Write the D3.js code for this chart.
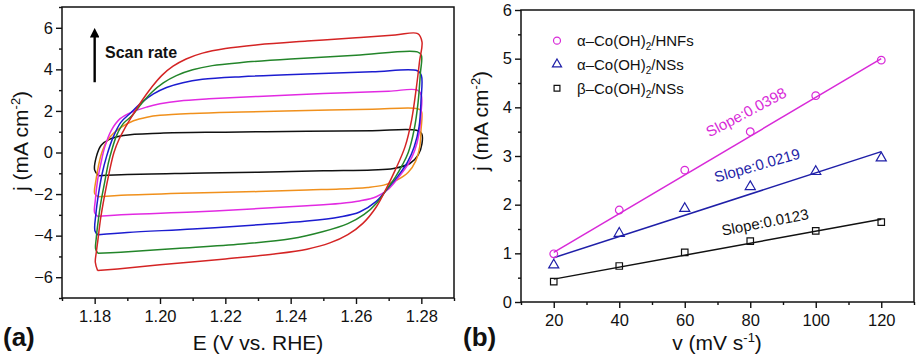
<!DOCTYPE html>
<html><head><meta charset="utf-8">
<script src="https://cdn.jsdelivr.net/npm/d3@7"></script>
<style>
body{margin:0;background:#fff}
svg{display:block}
text{font-family:"Liberation Sans",Arial,Helvetica,sans-serif;fill:#111}
</style>
</head><body>
<svg id="c" width="917" height="360"></svg>
<script>
// ================= DATA =================
// Panel (a): cyclic voltammograms, [E (V vs RHE), j (mA cm^-2)]
const cvBlack = [[1.1812,-1.12],[1.1800,-0.85],[1.1805,-0.21],[1.1820,0.35],[1.1845,0.63],[1.1888,0.82],[1.2000,0.93],[1.2200,0.98],[1.2450,1.02],[1.2650,1.05],[1.2785,1.07],[1.2801,0.91],[1.2802,0.43],[1.2790,-0.13],[1.2765,-0.53],[1.2715,-0.77],[1.2650,-0.84],[1.2500,-0.88],[1.2300,-0.95],[1.2100,-1.00],[1.1900,-1.06],[1.1812,-1.12]];
const cvOrange = [[1.1811,-2.13],[1.1800,-1.97],[1.1804,-1.33],[1.1811,-0.69],[1.1821,-0.05],[1.1836,0.51],[1.1857,0.91],[1.1883,1.23],[1.1919,1.53],[1.1960,1.70],[1.2000,1.79],[1.2100,1.88],[1.2250,1.95],[1.2450,2.02],[1.2650,2.08],[1.2788,2.11],[1.2800,2.00],[1.2799,1.07],[1.2795,0.27],[1.2783,-0.40],[1.2760,-0.95],[1.2725,-1.33],[1.2685,-1.57],[1.2635,-1.68],[1.2550,-1.76],[1.2450,-1.80],[1.2300,-1.88],[1.2100,-1.95],[1.1900,-2.05],[1.1811,-2.13]];
const cvMagenta = [[1.1811,-3.10],[1.1800,-2.90],[1.1802,-2.29],[1.1809,-1.33],[1.1819,-0.53],[1.1831,0.27],[1.1851,1.07],[1.1878,1.63],[1.1914,1.95],[1.1960,2.19],[1.2000,2.34],[1.2060,2.48],[1.2150,2.58],[1.2300,2.70],[1.2500,2.84],[1.2700,2.95],[1.2788,3.00],[1.2800,2.75],[1.2799,1.88],[1.2793,0.91],[1.2780,0.11],[1.2762,-0.50],[1.2735,-1.10],[1.2700,-1.75],[1.2662,-2.13],[1.2611,-2.33],[1.2550,-2.45],[1.2450,-2.56],[1.2300,-2.70],[1.2100,-2.86],[1.1900,-2.98],[1.1811,-3.07]];
const cvBlue = [[1.1811,-3.98],[1.1801,-3.78],[1.1804,-2.93],[1.1812,-1.97],[1.1823,-1.01],[1.1836,-0.21],[1.1857,0.75],[1.1880,1.45],[1.1910,1.90],[1.1945,2.42],[1.1980,2.82],[1.2020,3.13],[1.2070,3.36],[1.2130,3.52],[1.2250,3.65],[1.2450,3.78],[1.2650,3.88],[1.2788,3.93],[1.2800,3.72],[1.2799,2.51],[1.2793,1.23],[1.2778,0.27],[1.2758,-0.45],[1.2730,-1.10],[1.2697,-1.73],[1.2662,-2.35],[1.2611,-2.86],[1.2550,-3.10],[1.2450,-3.30],[1.2300,-3.48],[1.2100,-3.68],[1.1900,-3.85],[1.1811,-3.96]];
const cvGreen = [[1.1810,-4.85],[1.1803,-4.65],[1.1805,-4.10],[1.1810,-3.40],[1.1819,-2.40],[1.1831,-1.40],[1.1842,-0.50],[1.1852,0.10],[1.1868,0.85],[1.1888,1.40],[1.1913,1.75],[1.1945,2.38],[1.1975,2.90],[1.2010,3.35],[1.2050,3.70],[1.2100,3.98],[1.2160,4.18],[1.2250,4.33],[1.2400,4.50],[1.2600,4.68],[1.2788,4.84],[1.2800,4.68],[1.2797,3.80],[1.2790,2.40],[1.2778,1.10],[1.2760,0.00],[1.2742,-0.60],[1.2720,-1.20],[1.2695,-1.75],[1.2665,-2.40],[1.2625,-2.98],[1.2575,-3.42],[1.2500,-3.80],[1.2400,-4.15],[1.2250,-4.40],[1.2050,-4.62],[1.1880,-4.80],[1.1810,-4.85]];
const cvRed = [[1.1809,-5.68],[1.1802,-5.28],[1.1805,-4.80],[1.1810,-4.20],[1.1818,-3.20],[1.1830,-2.10],[1.1844,-1.00],[1.1859,0.00],[1.1875,0.65],[1.1890,1.10],[1.1913,1.71],[1.1945,2.50],[1.1975,3.15],[1.2005,3.70],[1.2040,4.15],[1.2080,4.50],[1.2130,4.78],[1.2200,5.00],[1.2300,5.18],[1.2450,5.36],[1.2600,5.52],[1.2720,5.65],[1.2789,5.72],[1.2802,5.32],[1.2795,4.44],[1.2785,3.15],[1.2770,1.55],[1.2750,0.27],[1.2720,-0.85],[1.2693,-1.73],[1.2662,-2.62],[1.2621,-3.41],[1.2575,-3.95],[1.2520,-4.35],[1.2450,-4.65],[1.2350,-4.88],[1.2200,-5.12],[1.2000,-5.40],[1.1870,-5.60],[1.1809,-5.68]];
const cvSeries = [cvBlack, cvOrange, cvMagenta, cvBlue, cvGreen, cvRed];
const cvColors = ["#111111","#f0901c","#e22ae2","#1c1cd0","#23852a","#d42424"];
const aXTicks = [1.18,1.20,1.22,1.24,1.26,1.28];
const aXMinor = [1.17,1.19,1.21,1.23,1.25,1.27,1.29];
const aYTicks = [-6,-4,-2,0,2,4,6];
const aYMinor = [-7,-5,-3,-1,1,3,5,7];
const scanArrow = [[1.18,3.38],[1.18,6.05]];

// Panel (b): current density vs scan rate
const scanRates = [20,40,60,80,100,120];
const jHNFs    = [0.99,1.89,2.71,3.50,4.24,4.97];
const jAlphaNSs = [0.76,1.41,1.92,2.37,2.68,2.96];
const jBetaNSs  = [0.42,0.74,1.02,1.25,1.46,1.64];
const fitHNFs    = [[20,1.02],[120,5.00]];
const fitAlphaNSs = [[20,0.91],[120,3.09]];
const fitBetaNSs  = [[20,0.47],[120,1.70]];
const slopeLabels = ["Slope:0.0398","Slope:0.0219","Slope:0.0123"];
const bColors = ["#d82ad8","#1f1fa8","#111111"];
const bXTicks = [20,40,60,80,100,120];
const bXMinor = [10,30,50,70,90,110,130];
const bYTicks = [0,1,2,3,4,5,6];
const bYMinor = [0.5,1.5,2.5,3.5,4.5,5.5];

// ================= DRAW =================
const svg = d3.select("#c");

function frame(g, x, y, xt, xm, yt, ym, xfmt, yfmt) {
  const [x0,x1] = x.range(), [y0,y1] = y.range();
  g.append("g").attr("transform",`translate(0,${y0})`)
    .call(d3.axisBottom(x).tickValues(xt).tickSize(6).tickPadding(6).tickFormat(xfmt));
  g.append("g").attr("transform",`translate(0,${y0})`)
    .call(d3.axisBottom(x).tickValues(xm).tickSize(3).tickFormat(""));
  g.append("g").attr("transform",`translate(${x0},0)`)
    .call(d3.axisLeft(y).tickValues(yt).tickSize(6).tickPadding(3).tickFormat(yfmt));
  g.append("g").attr("transform",`translate(${x0},0)`)
    .call(d3.axisLeft(y).tickValues(ym).tickSize(3).tickFormat(""));
  g.selectAll(".domain").remove();
  g.selectAll(".tick line").attr("stroke","#111").attr("stroke-width",1.4);
  g.selectAll(".tick text").attr("font-size","16.5px").attr("fill","#111")
    .attr("font-family","'Liberation Sans',Arial,sans-serif");
  g.append("rect").attr("x",x0).attr("y",y1).attr("width",x1-x0).attr("height",y0-y1)
    .attr("fill","none").attr("stroke","#111").attr("stroke-width",1.5);
}

// ---------- Panel (a) ----------
const xa = d3.scaleLinear().domain([1.17,1.29]).range([62,454]);
const ya = d3.scaleLinear().domain([-7,7]).range([298,7]);
const ga = svg.append("g");
const cvLine = d3.line().x(d=>xa(d[0])).y(d=>ya(d[1])).curve(d3.curveCatmullRom.alpha(0.5));
cvSeries.forEach((s,i)=>{
  ga.append("path").attr("d",cvLine(s)).attr("fill","none")
    .attr("stroke",cvColors[i]).attr("stroke-width",1.5).attr("stroke-linejoin","round");
});
frame(ga, xa, ya, aXTicks, aXMinor, aYTicks, aYMinor, d3.format(".2f"), d3.format("d"));
// scan-rate arrow
svg.append("defs").append("marker").attr("id","ah").attr("viewBox","0 0 10 10")
  .attr("refX",5).attr("refY",5).attr("markerWidth",4).attr("markerHeight",4)
  .attr("orient","auto").append("path").attr("d","M0,0L10,5L0,10Z").attr("fill","#000");
ga.append("line").attr("x1",xa(scanArrow[0][0])).attr("y1",ya(scanArrow[0][1]))
  .attr("x2",xa(scanArrow[1][0])).attr("y2",ya(scanArrow[1][1])+6)
  .attr("stroke","#000").attr("stroke-width",2.4).attr("marker-end","url(#ah)");
ga.append("text").attr("x",105).attr("y",58).attr("font-size","16px").attr("font-weight","bold")
  .attr("fill","#000").text("Scan rate");
// axis titles
ga.append("text").attr("x",258).attr("y",350).attr("text-anchor","middle").attr("font-size","21px")
  .text("E (V vs. RHE)");
const yta = ga.append("text").attr("transform","translate(28,141) rotate(-90)")
  .attr("text-anchor","middle").attr("font-size","21px");
yta.append("tspan").text("j (mA cm");
yta.append("tspan").attr("dy",-8).attr("font-size","13px").text("-2");
yta.append("tspan").attr("dy",8).text(")");
ga.append("text").attr("x",3).attr("y",346).attr("font-size","26px").attr("font-weight","bold")
  .attr("fill","#000").text("(a)");

// ---------- Panel (b) ----------
const xb = d3.scaleLinear().domain([10,130]).range([521,914]);
const yb = d3.scaleLinear().domain([0,6]).range([302,10]);
const gb = svg.append("g");
const fitLine = d3.line().x(d=>xb(d[0])).y(d=>yb(d[1]));
[fitHNFs, fitAlphaNSs, fitBetaNSs].forEach((f,i)=>{
  gb.append("path").attr("d",fitLine(f)).attr("fill","none").attr("stroke",bColors[i]).attr("stroke-width",1.5);
});
const sym = [d3.symbolCircle, d3.symbolTriangle, d3.symbolSquare];
const symSize = [46, 44, 42];
[jHNFs, jAlphaNSs, jBetaNSs].forEach((arr,i)=>{
  gb.selectAll(null).data(arr).enter().append("path")
    .attr("transform",(d,k)=>`translate(${xb(scanRates[k])},${yb(d)})`)
    .attr("d",d3.symbol().type(sym[i]).size(symSize[i])())
    .attr("fill","none").attr("stroke",bColors[i]).attr("stroke-width",1.2);
});
frame(gb, xb, yb, bXTicks, bXMinor, bYTicks, bYMinor, d3.format("d"), d3.format("d"));
// slope labels
const slopePos = [[746,112,-28],[757,165,-16],[765,222,-11]];
slopeLabels.forEach((t,i)=>{
  gb.append("text").attr("transform",`translate(${slopePos[i][0]},${slopePos[i][1]}) rotate(${slopePos[i][2]})`)
    .attr("text-anchor","middle").attr("dominant-baseline","central").attr("font-size","15px")
    .attr("fill",bColors[i]).style("fill",bColors[i]).text(t);
});
// legend
const legPrefix = ["\u03b1\u2013Co(OH)","\u03b1\u2013Co(OH)","\u03b2\u2013Co(OH)"];
const legSuffix = ["/HNFs","/NSs","/NSs"];
const legY = [40.7,64.3,88.3];
legPrefix.forEach((p,i)=>{
  gb.append("path").attr("transform",`translate(557,${legY[i]})`)
    .attr("d",d3.symbol().type(sym[i]).size(symSize[i]-8)())
    .attr("fill","none").attr("stroke",bColors[i]).attr("stroke-width",1.2);
  const t = gb.append("text").attr("x",577).attr("y",legY[i]+5.5).attr("font-size","15px");
  t.append("tspan").text(p);
  t.append("tspan").attr("dy",4).attr("font-size","10px").text("2");
  t.append("tspan").attr("dy",-4).text(legSuffix[i]);
});
// axis titles
const xtb = gb.append("text").attr("x",717).attr("y",350).attr("text-anchor","middle").attr("font-size","21px");
xtb.append("tspan").text("v (mV s");
xtb.append("tspan").attr("dy",-8).attr("font-size","13px").text("-1");
xtb.append("tspan").attr("dy",8).text(")");
const ytb = gb.append("text").attr("transform","translate(488,121) rotate(-90)")
  .attr("text-anchor","middle").attr("font-size","21px");
ytb.append("tspan").text("j (mA cm");
ytb.append("tspan").attr("dy",-8).attr("font-size","13px").text("-2");
ytb.append("tspan").attr("dy",8).text(")");
gb.append("text").attr("x",463).attr("y",346).attr("font-size","26px").attr("font-weight","bold")
  .attr("fill","#000").text("(b)");
</script>
</body></html>
